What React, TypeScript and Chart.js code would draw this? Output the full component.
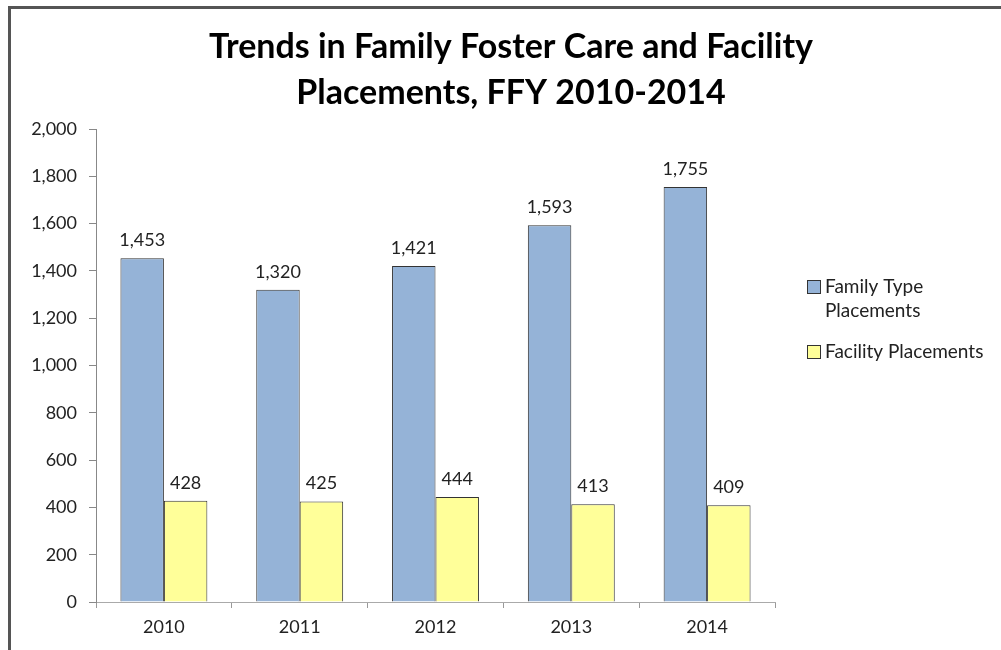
import React, { useEffect, useRef } from "react";
import { Chart, registerables } from "chart.js";

Chart.register(...registerables);

const categories = ["2010", "2011", "2012", "2013", "2014"];
const familyTypeValues = [1453, 1320, 1421, 1593, 1755];
const facilityValues = [428, 425, 444, 413, 409];
const seriesNames = ["Family Type Placements", "Facility Placements"];
const legendLines = [["Family Type", "Placements"], ["Facility Placements"]];
const titleLines = ["Trends in Family Foster Care and Facility", "Placements, FFY 2010-2014"];
const yMin = 0;
const yMax = 2000;
const yStep = 200;

const FONT = "Lato, 'Open Sans', sans-serif";
const fmt = (v: number) => v.toLocaleString("en-US");

const framePlugin = {
  id: "frame",
  beforeDraw(chart: any) {
    const ctx = chart.ctx;
    ctx.save();
    ctx.fillStyle = "#fff";
    ctx.fillRect(0, 0, chart.width, chart.height);
    ctx.strokeStyle = "#555";
    ctx.lineWidth = 3;
    ctx.beginPath();
    ctx.moveTo(9.5, chart.height);
    ctx.lineTo(9.5, 7.5);
    ctx.lineTo(chart.width, 7.5);
    ctx.stroke();
    ctx.restore();
  },
};

const titlePlugin = {
  id: "customTitle",
  afterDraw(chart: any) {
    const ctx = chart.ctx;
    ctx.save();
    ctx.fillStyle = "#000";
    ctx.font = `bold 34px ${FONT}`;
    ctx.textAlign = "center";
    ctx.textBaseline = "middle";
    titleLines.forEach((line, i) => {
      ctx.fillText(line, 511, 47 + i * 46);
    });
    ctx.restore();
  },
};

const dataLabelPlugin = {
  id: "dataLabels",
  afterDatasetsDraw(chart: any) {
    const ctx = chart.ctx;
    ctx.save();
    ctx.fillStyle = "#222";
    ctx.font = `18px ${FONT}`;
    ctx.textAlign = "center";
    ctx.textBaseline = "bottom";
    chart.data.datasets.forEach((ds: any, di: number) => {
      const meta = chart.getDatasetMeta(di);
      meta.data.forEach((bar: any, i: number) => {
        ctx.fillText(fmt(ds.data[i]), bar.x, bar.y - 9);
      });
    });
    ctx.restore();
  },
};

const legendPlugin = {
  id: "sideLegend",
  afterDraw(chart: any) {
    const ctx = chart.ctx;
    ctx.save();
    ctx.font = `19px ${FONT}`;
    ctx.textBaseline = "middle";
    ctx.textAlign = "left";
    const x = 807;
    const starts = [287, 352];
    chart.data.datasets.forEach((ds: any, di: number) => {
      const y = starts[di];
      ctx.fillStyle = ds.backgroundColor;
      ctx.fillRect(x + 0.5, y - 6.5, 13, 13);
      ctx.strokeStyle = "#333";
      ctx.lineWidth = 1;
      ctx.strokeRect(x + 0.5, y - 6.5, 13, 13);
      ctx.fillStyle = "#222";
      legendLines[di].forEach((line, li) => {
        ctx.fillText(line, x + 18, y + li * 24);
      });
    });
    ctx.restore();
  },
};

export default function App() {
  const canvasRef = useRef<HTMLCanvasElement | null>(null);

  useEffect(() => {
    if (!canvasRef.current) return;
    const chart = new Chart(canvasRef.current, {
      type: "bar",
      data: {
        labels: categories,
        datasets: [
          {
            label: seriesNames[0],
            data: familyTypeValues,
            backgroundColor: "#95B3D7",
            borderColor: "#333",
            borderWidth: 1,
            categoryPercentage: 0.64,
            barPercentage: 1,
          },
          {
            label: seriesNames[1],
            data: facilityValues,
            backgroundColor: "#FFFF99",
            borderColor: "#333",
            borderWidth: 1,
            categoryPercentage: 0.64,
            barPercentage: 1,
          },
        ],
      },
      options: {
        animation: false,
        responsive: false,
        maintainAspectRatio: false,
        layout: { padding: { top: 129, right: 226, left: 0, bottom: 0 } },
        plugins: {
          legend: { display: false },
          title: { display: false },
          tooltip: { enabled: false },
        },
        scales: {
          x: {
            grid: {
              offset: true,
              drawOnChartArea: false,
              tickLength: 6,
              color: "#999",
            },
            border: { color: "#aaa", width: 1 },
            ticks: { color: "#222", font: { family: FONT, size: 18 }, padding: 8 },
            afterFit: (s: any) => {
              s.height = 48;
            },
          },
          y: {
            min: yMin,
            max: yMax,
            ticks: {
              stepSize: yStep,
              color: "#222",
              font: { family: FONT, size: 18 },
              padding: 12,
              callback: (v: any) => fmt(Number(v)),
            },
            grid: { drawOnChartArea: false, tickLength: 7, color: "#888" },
            border: { color: "#888", width: 1 },
            afterFit: (s: any) => {
              s.width = 96;
            },
          },
        },
      },
      plugins: [framePlugin, titlePlugin, dataLabelPlugin, legendPlugin],
    });
    return () => chart.destroy();
  }, []);

  return (
    <div
      style={{
        position: "fixed",
        left: 0,
        top: 0,
        width: 1001,
        height: 650,
        overflow: "hidden",
        background: "#fff",
      }}
    >
      <canvas
        ref={canvasRef}
        width={1001}
        height={650}
        style={{ position: "absolute", left: 0, top: 0, width: 1001, height: 650 }}
      />
    </div>
  );
}
